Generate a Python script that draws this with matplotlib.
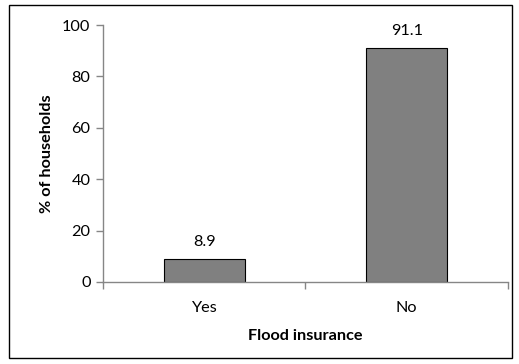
import matplotlib
matplotlib.use('Agg')
import matplotlib.pyplot as plt
from matplotlib.patches import Rectangle

categories = ['Yes', 'No']
values = [8.9, 91.1]
labels = ['8.9', '91.1']

plt.rcParams['font.family'] = ['Lato', 'DejaVu Sans']
fs = 11.7

fig = plt.figure(figsize=(5.19, 3.64), dpi=100)
ax = fig.add_axes([0.1985, 0.2253, 0.78, 0.706])

pos = [0, 1]
bars = ax.bar(pos, values, width=0.4, color='#808080', edgecolor='#000000', linewidth=0.8)
for p, v, t in zip(pos, values, labels):
    ax.text(p, v + 4.0, t, ha='center', va='bottom', fontsize=fs)

ax.set_xlim(-0.5, 1.5)
ax.set_ylim(0, 100)
ax.set_yticks([0, 20, 40, 60, 80, 100])
ax.set_xticks(pos)
ax.set_xticklabels(categories)
ax.set_xticks([-0.5, 0.5, 1.5], minor=True)
ax.tick_params(axis='x', which='major', length=0, pad=14, labelsize=fs)
ax.tick_params(axis='x', which='minor', length=5, color='#868686', width=1)
ax.tick_params(axis='y', length=5, color='#868686', width=1, labelsize=fs, pad=4)

for s in ['top', 'right']:
    ax.spines[s].set_visible(False)
for s in ['left', 'bottom']:
    ax.spines[s].set_color('#868686')
    ax.spines[s].set_linewidth(1)

ax.set_ylabel('% of households', fontsize=fs, fontweight='bold', labelpad=6)
ax.set_xlabel('Flood insurance', fontsize=fs, fontweight='bold', labelpad=10)

fig.patches.append(Rectangle((9 / 519, 6 / 364), 503 / 519, 353 / 364, transform=fig.transFigure,
                             fill=False, edgecolor='#000000', linewidth=1))

fig.savefig('out.png', dpi=100)
